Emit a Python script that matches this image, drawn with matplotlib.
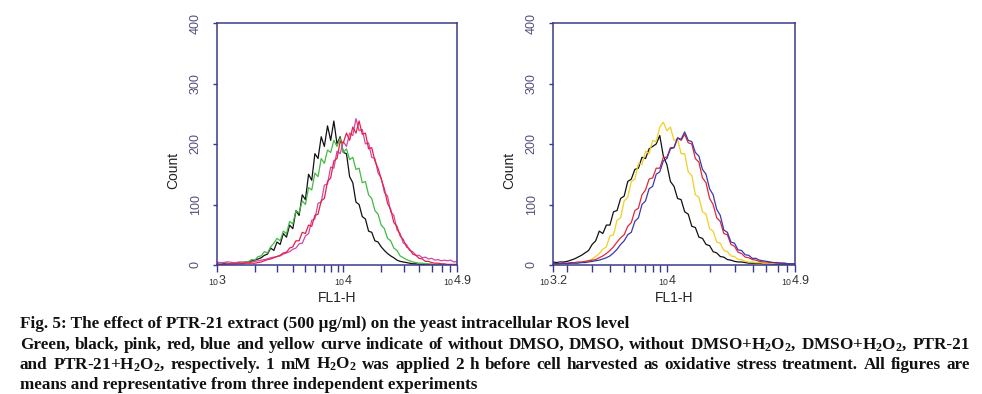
import numpy as np
import matplotlib
matplotlib.use('Agg')
import matplotlib.pyplot as plt
from matplotlib.ticker import FixedLocator, NullFormatter

plt.rcParams['mathtext.fontset'] = 'custom'
plt.rcParams['mathtext.rm'] = 'Liberation Serif:bold'
plt.rcParams['mathtext.it'] = 'Liberation Serif:bold'
plt.rcParams['mathtext.bf'] = 'Liberation Serif:bold'
plt.rcParams['mathtext.sf'] = 'Liberation Sans'
plt.rcParams['mathtext.default'] = 'rm'

# FL1-H channels, in log10 units, 0.025 decade apart
left_start, right_start, step = 3.0, 3.2, 0.025

# left panel: green, black, pink, red
left_black = [2, 1, 2, 3, 2, 3, 2, 4, 3, 5,
              4, 7, 8, 10, 12, 16, 18, 28, 24, 38,
              34, 52, 46, 66, 60, 90, 82, 116, 108, 150,
              140, 184, 176, 212, 196, 230, 206, 238, 200, 212,
              186, 184, 146, 136, 104, 100, 80, 76, 56, 54,
              40, 38, 30, 24, 19, 15, 12, 8, 6, 5,
              4, 3, 2, 2, 1, 1, 1, 1, 1, 0,
              0, 0, 0, 0, 0, 0, 0]
left_green = [1, 1, 1, 2, 2, 2, 3, 3, 4, 5,
              6, 9, 8, 14, 15, 22, 20, 30, 36, 44,
              40, 56, 52, 72, 68, 90, 86, 106, 100, 128,
              124, 152, 146, 176, 168, 190, 186, 206, 196, 210,
              186, 192, 174, 178, 158, 160, 136, 138, 116, 110,
              90, 84, 66, 60, 44, 40, 28, 24, 15, 12,
              9, 7, 5, 4, 3, 3, 2, 2, 1, 1,
              1, 0, 0, 0, 0, 0, 0]
left_pink = [5, 4, 4, 5, 5, 4, 4, 5, 5, 4,
             4, 5, 6, 7, 8, 9, 10, 12, 13, 14,
             15, 18, 20, 22, 26, 28, 35, 36, 48, 52,
             74, 76, 102, 104, 132, 134, 162, 160, 188, 184,
             204, 196, 218, 214, 242, 222, 224, 200, 202, 178,
             176, 152, 144, 120, 114, 88, 82, 58, 52, 36,
             34, 24, 22, 16, 16, 12, 13, 10, 11, 8,
             9, 7, 8, 7, 8, 5, 6]
left_red = [1, 1, 1, 1, 2, 2, 2, 2, 2, 3,
            3, 3, 3, 4, 5, 7, 9, 10, 12, 14,
            16, 20, 21, 28, 30, 40, 40, 54, 52, 66,
            64, 82, 84, 106, 110, 138, 144, 172, 176, 204,
            202, 218, 206, 228, 218, 238, 216, 218, 192, 194,
            172, 160, 142, 126, 102, 92, 70, 64, 48, 42,
            30, 26, 18, 16, 11, 10, 6, 6, 4, 3,
            3, 2, 2, 1, 1, 1, 1]

# right panel: black, yellow, red, blue
right_black = [5, 4, 5, 5, 6, 8, 10, 13, 16, 20,
               24, 34, 40, 56, 52, 66, 66, 88, 90, 110,
               114, 138, 142, 158, 160, 178, 176, 192, 196, 200,
               214, 180, 166, 138, 130, 110, 108, 88, 84, 64,
               62, 46, 44, 34, 32, 22, 20, 14, 13, 9,
               8, 6, 5, 5, 4, 3, 3, 3, 3, 2,
               2, 2, 1, 1, 1, 1, 1, 0, 0]
right_yellow = [2, 2, 3, 2, 3, 3, 3, 4, 4, 5,
                7, 10, 14, 19, 26, 30, 48, 50, 74, 78,
                106, 112, 138, 142, 168, 166, 188, 184, 206, 204,
                228, 236, 222, 228, 206, 208, 184, 184, 154, 148,
                116, 112, 88, 84, 60, 56, 38, 36, 24, 22,
                15, 14, 9, 9, 6, 5, 5, 4, 4, 3,
                3, 3, 2, 2, 2, 2, 2, 1, 1]
right_red = [3, 2, 3, 3, 3, 4, 4, 5, 5, 6,
             7, 8, 9, 12, 15, 19, 24, 30, 38, 45,
             50, 64, 70, 90, 94, 116, 124, 142, 144, 160,
             160, 178, 178, 194, 194, 210, 206, 216, 202, 200,
             176, 170, 144, 136, 110, 100, 78, 72, 52, 50,
             34, 31, 21, 19, 13, 12, 9, 8, 6, 5,
             5, 4, 4, 3, 3, 3, 2, 2, 2]
right_blue = [2, 2, 2, 3, 2, 3, 3, 3, 4, 4,
              5, 6, 7, 8, 10, 12, 15, 20, 26, 34,
              40, 50, 54, 72, 78, 100, 106, 126, 130, 150,
              154, 172, 176, 192, 194, 210, 208, 220, 206, 204,
              186, 180, 158, 150, 126, 116, 92, 82, 58, 54,
              38, 36, 25, 24, 17, 16, 11, 11, 8, 7,
              6, 5, 4, 4, 3, 3, 2, 2, 2]

left_ticklabels = [r'$_{\mathsf{10}}\mathsf{3}$', r'$_{\mathsf{10}}\mathsf{4}$', r'$_{\mathsf{10}}\mathsf{4.9}$']
right_ticklabels = [r'$_{\mathsf{10}}\mathsf{3.2}$', r'$_{\mathsf{10}}\mathsf{4}$', r'$_{\mathsf{10}}\mathsf{4.9}$']

caption_lines = [
    'Fig. 5: The effect of PTR-21 extract (500 µg/ml) on the yeast intracellular ROS level',
    'Green, black, pink, red, blue and yellow curve indicate of without DMSO, DMSO, without DMSO+H$_2$O$_2$, DMSO+H$_2$O$_2$, PTR-21',
    'and PTR-21+H$_2$O$_2$, respectively. 1 mM H$_2$O$_2$ was applied 2 h before cell harvested as oxidative stress treatment. All figures are',
    'means and representative from three independent experiments',
]

W, H = 982, 394
navy = '#3a3a8c'

fig = plt.figure(figsize=(W / 100, H / 100), dpi=100)
ax1 = fig.add_axes([217 / W, 1 - 265 / H, 240 / W, 242 / H])
ax2 = fig.add_axes([553 / W, 1 - 265 / H, 242 / W, 242 / H])


def channels(start, n):
    return 10 ** (start + step * np.arange(n))


for vals, c in [(left_black, '#111111'), (left_green, '#45b845'),
                (left_pink, '#cc48b0'), (left_red, '#e82040')]:
    ax1.plot(channels(left_start, len(vals)), vals, color=c, lw=0.9)

for vals, c in [(right_black, '#111111'), (right_yellow, '#f0d020'),
                (right_red, '#e02838'), (right_blue, '#3a3aa8')]:
    ax2.plot(channels(right_start, len(vals)), vals, color=c, lw=0.9)


def style(ax, lo, labels, lab_x):
    ax.set_xscale('log')
    ax.set_xlim(10 ** lo, 10 ** 4.9)
    ax.set_ylim(0, 400)
    ax.set_yticks([0, 100, 200, 300, 400])
    ax.set_yticklabels(['0', '100', '200', '300', '400'], rotation=90,
                       va='center', fontsize=9, color='#50507a',
                       family='Liberation Sans')
    ax.xaxis.set_major_locator(FixedLocator([10 ** lo, 1e4, 10 ** 4.9]))
    ax.set_xticklabels(labels, fontsize=9, color='#333333')
    minors = [m * 10 ** e for e in (3, 4) for m in range(2, 10)]
    minors = [v for v in minors if 10 ** lo < v < 10 ** 4.9]
    ax.xaxis.set_minor_locator(FixedLocator(minors))
    ax.xaxis.set_minor_formatter(NullFormatter())
    ax.tick_params(axis='x', which='both', direction='out', length=5,
                   width=1, color=navy, pad=1)
    ax.tick_params(axis='y', direction='out', length=3, width=1,
                   color=navy, pad=8)
    for s in ax.spines.values():
        s.set_color(navy)
        s.set_linewidth(1.1)
    ax.set_ylabel('Count', fontsize=10, family='Liberation Sans', color='#222222')
    ax.yaxis.set_label_coords(lab_x, 0.39)
    ax.set_xlabel('FL1-H', fontsize=10, family='Liberation Sans', color='#222222')
    ax.xaxis.set_label_coords(0.5, -0.135)
    ax.xaxis.label.set_va('center')


style(ax1, 3.0, left_ticklabels, -0.155)
style(ax2, 3.2, right_ticklabels, -0.15)

# caption, bold serif, lines 2-3 justified like the source page
cap_kw = dict(family='Liberation Serif', weight='bold', color='#111111')
renderer = fig.canvas.get_renderer()


def text_width(s, size):
    t = fig.text(0, 0, s, fontsize=size, **cap_kw)
    w = t.get_window_extent(renderer).width
    t.remove()
    return w


size = 10 * 612 / text_width(caption_lines[0], 10)
x0, x1 = 20, 970
baselines = [328, 349, 369, 389]

for i, (line, yb) in enumerate(zip(caption_lines, baselines)):
    if i in (1, 2):
        words = line.split(' ')
        widths = [text_width(w, size) for w in words]
        gap = (x1 - x0 - sum(widths)) / (len(words) - 1)
        x = x0
        for w, wd in zip(words, widths):
            fig.text(x / W, 1 - yb / H, w, fontsize=size, va='baseline', **cap_kw)
            x += wd + gap
    else:
        fig.text(x0 / W, 1 - yb / H, line, fontsize=size, va='baseline', **cap_kw)

fig.savefig('out.png', dpi=100, facecolor='white')
